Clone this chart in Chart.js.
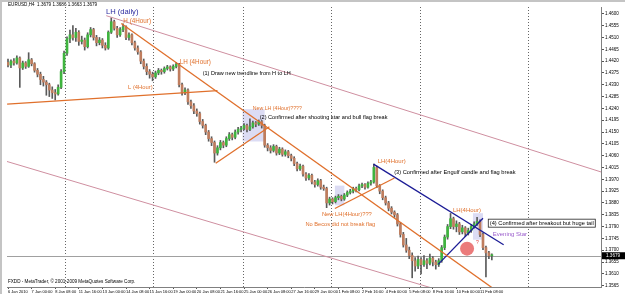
<!DOCTYPE html>
<html>
<head>
<meta charset="utf-8">
<script src="https://cdn.jsdelivr.net/npm/chart.js@4.4.0/dist/chart.umd.min.js"></script>
<style>
  html, body { margin: 0; padding: 0; background: #fff; }
</style>
</head>
<body>
<canvas id="chart" width="625" height="294"></canvas>
<script>
// EURUSD H4 candles
let opens = [
  1.4415,1.4405,1.4420,1.4413,1.4432,1.4394,1.4413,1.4400,1.4425,1.4410,
  1.4385,1.4370,1.4350,1.4340,1.4330,1.4310,1.4300,1.4295,1.4320,1.4380,
  1.4450,1.4505,1.4520,1.4510,1.4530,1.4495,1.4500,1.4475,1.4520,1.4540,
  1.4510,1.4490,1.4500,1.4480,1.4470,1.4530,1.4570,1.4545,1.4520,1.4540,
  1.4550,1.4510,1.4520,1.4490,1.4470,1.4455,1.4420,1.4400,1.4380,1.4370,
  1.4360,1.4375,1.4385,1.4380,1.4392,1.4398,1.4390,1.4400,1.4408,1.4330,
  1.4300,1.4310,1.4265,1.4250,1.4230,1.4220,1.4190,1.4175,1.4150,1.4125,
  1.4110,1.4070,1.4090,1.4110,1.4100,1.4125,1.4140,1.4130,1.4150,1.4160,
  1.4165,1.4175,1.4160,1.4170,1.4185,1.4180,1.4190,1.4175,1.4100,1.4090,
  1.4080,1.4095,1.4070,1.4085,1.4065,1.4075,1.4060,1.4050,1.4030,1.4010,
  1.4020,1.3990,1.3975,1.3985,1.3960,1.3950,1.3965,1.3940,1.3935,1.3880,
  1.3895,1.3885,1.3900,1.3905,1.3895,1.3910,1.3920,1.3925,1.3935,1.3930,
  1.3945,1.3950,1.3940,1.3955,1.3960,1.4015,1.3945,1.3925,1.3900,1.3880,
  1.3860,1.3845,1.3835,1.3800,1.3760,1.3720,1.3700,1.3680,1.3660,1.3640,
  1.3665,1.3645,1.3660,1.3650,1.3670,1.3655,1.3645,1.3660,1.3710,1.3750,
  1.3790,1.3820,1.3790,1.3800,1.3770,1.3785,1.3765,1.3775,1.3790,1.3800,
  1.3810,1.3760,1.3710,1.3690,1.3679
];
let highs = [
  1.4428,1.4425,1.4430,1.4440,1.4436,1.4420,1.4418,1.4452,1.4430,1.4414,
  1.4392,1.4378,1.4362,1.4346,1.4336,1.4322,1.4312,1.4330,1.4388,1.4458,
  1.4512,1.4538,1.4555,1.4545,1.4536,1.4515,1.4508,1.4528,1.4548,1.4545,
  1.4518,1.4510,1.4506,1.4490,1.4535,1.4585,1.4576,1.4552,1.4548,1.4562,
  1.4554,1.4528,1.4524,1.4496,1.4478,1.4460,1.4428,1.4410,1.4388,1.4378,
  1.4382,1.4392,1.4390,1.4398,1.4404,1.4402,1.4406,1.4415,1.4412,1.4336,
  1.4318,1.4314,1.4272,1.4258,1.4238,1.4226,1.4198,1.4180,1.4156,1.4132,
  1.4116,1.4098,1.4118,1.4116,1.4132,1.4148,1.4146,1.4158,1.4168,1.4172,
  1.4182,1.4180,1.4200,1.4192,1.4190,1.4196,1.4194,1.4180,1.4106,1.4098,
  1.4102,1.4100,1.4092,1.4090,1.4082,1.4080,1.4066,1.4056,1.4036,1.4028,
  1.4024,1.3996,1.3992,1.3990,1.3966,1.3972,1.3970,1.3948,1.3940,1.3902,
  1.3900,1.3906,1.3912,1.3910,1.3916,1.3926,1.3932,1.3940,1.3940,1.3952,
  1.3956,1.3954,1.3960,1.3966,1.4028,1.4020,1.3950,1.3930,1.3906,1.3886,
  1.3866,1.3850,1.3840,1.3806,1.3768,1.3745,1.3712,1.3690,1.3672,1.3678,
  1.3672,1.3680,1.3668,1.3685,1.3676,1.3662,1.3668,1.3718,1.3758,1.3798,
  1.3840,1.3826,1.3812,1.3806,1.3795,1.3790,1.3784,1.3798,1.3808,1.3825,
  1.3816,1.3766,1.3716,1.3696,1.3686
];
let lows = [
  1.4398,1.4395,1.4405,1.4408,1.4320,1.4388,1.4392,1.4396,1.4402,1.4378,
  1.4360,1.4330,1.4325,1.4290,1.4285,1.4278,1.4272,1.4290,1.4315,1.4372,
  1.4442,1.4490,1.4500,1.4495,1.4480,1.4485,1.4462,1.4470,1.4512,1.4500,
  1.4478,1.4482,1.4470,1.4462,1.4465,1.4525,1.4538,1.4510,1.4514,1.4532,
  1.4502,1.4500,1.4482,1.4462,1.4446,1.4410,1.4390,1.4368,1.4355,1.4345,
  1.4354,1.4368,1.4370,1.4374,1.4386,1.4382,1.4384,1.4394,1.4322,1.4290,
  1.4292,1.4255,1.4240,1.4220,1.4210,1.4180,1.4165,1.4140,1.4115,1.4098,
  1.4035,1.4062,1.4082,1.4090,1.4094,1.4118,1.4120,1.4124,1.4142,1.4150,
  1.4158,1.4150,1.4155,1.4165,1.4170,1.4175,1.4165,1.4092,1.4078,1.4070,
  1.4074,1.4062,1.4064,1.4058,1.4058,1.4052,1.4040,1.4022,1.4002,1.4004,
  1.3982,1.3966,1.3968,1.3952,1.3940,1.3944,1.3932,1.3928,1.3862,1.3872,
  1.3876,1.3880,1.3892,1.3888,1.3890,1.3904,1.3914,1.3918,1.3922,1.3926,
  1.3938,1.3932,1.3936,1.3948,1.3955,1.3938,1.3915,1.3892,1.3872,1.3850,
  1.3838,1.3825,1.3792,1.3750,1.3712,1.3692,1.3668,1.3595,1.3620,1.3630,
  1.3610,1.3638,1.3630,1.3644,1.3640,1.3628,1.3638,1.3654,1.3702,1.3742,
  1.3782,1.3780,1.3770,1.3760,1.3762,1.3752,1.3758,1.3768,1.3784,1.3794,
  1.3752,1.3702,1.3598,1.3668,1.3663
];
let closes = [
  1.4405,1.4420,1.4413,1.4432,1.4394,1.4413,1.4400,1.4425,1.4410,1.4385,
  1.4370,1.4350,1.4340,1.4330,1.4310,1.4300,1.4295,1.4320,1.4380,1.4450,
  1.4505,1.4520,1.4510,1.4530,1.4495,1.4500,1.4475,1.4520,1.4540,1.4510,
  1.4490,1.4500,1.4480,1.4470,1.4530,1.4570,1.4545,1.4520,1.4540,1.4550,
  1.4510,1.4520,1.4490,1.4470,1.4455,1.4420,1.4400,1.4380,1.4370,1.4360,
  1.4375,1.4385,1.4380,1.4392,1.4398,1.4390,1.4400,1.4408,1.4330,1.4300,
  1.4310,1.4265,1.4250,1.4230,1.4220,1.4190,1.4175,1.4150,1.4125,1.4110,
  1.4070,1.4090,1.4110,1.4100,1.4125,1.4140,1.4130,1.4150,1.4160,1.4165,
  1.4175,1.4160,1.4170,1.4185,1.4180,1.4190,1.4175,1.4100,1.4090,1.4080,
  1.4095,1.4070,1.4085,1.4065,1.4075,1.4060,1.4050,1.4030,1.4010,1.4020,
  1.3990,1.3975,1.3985,1.3960,1.3950,1.3965,1.3940,1.3935,1.3880,1.3895,
  1.3885,1.3900,1.3905,1.3895,1.3910,1.3920,1.3925,1.3935,1.3930,1.3945,
  1.3950,1.3940,1.3955,1.3960,1.4015,1.3945,1.3925,1.3900,1.3880,1.3860,
  1.3845,1.3835,1.3800,1.3760,1.3720,1.3700,1.3680,1.3660,1.3640,1.3665,
  1.3645,1.3660,1.3650,1.3670,1.3655,1.3645,1.3660,1.3710,1.3750,1.3790,
  1.3820,1.3790,1.3800,1.3770,1.3785,1.3765,1.3775,1.3790,1.3800,1.3810,
  1.3760,1.3710,1.3690,1.3679,1.3679
];

let xLabels = [
  "6 Jan 2010", "7 Jan 00:00", "8 Jan 08:00", "11 Jan 16:00", "13 Jan 00:00",
  "14 Jan 08:00", "15 Jan 16:00", "19 Jan 00:00", "20 Jan 08:00", "21 Jan 16:00",
  "25 Jan 00:00", "26 Jan 08:00", "27 Jan 16:00", "29 Jan 00:00", "1 Feb 08:00",
  "2 Feb 16:00", "4 Feb 00:00", "5 Feb 08:00", "8 Feb 16:00", "10 Feb 00:00",
  "11 Feb 08:00"
];
let xLabelBars = [0, 8, 16, 24, 32, 40, 48, 56, 64, 72, 80, 88, 96, 104, 112, 120, 128, 136, 144, 152, 160];
let yTicks = [
  1.4600, 1.4555, 1.4510, 1.4465, 1.4420, 1.4375, 1.4330, 1.4285, 1.4240, 1.4195,
  1.4150, 1.4105, 1.4060, 1.4015, 1.3970, 1.3925, 1.3880, 1.3835, 1.3790, 1.3745,
  1.3700, 1.3655, 1.3610, 1.3565
];
let lastPrice = 1.3679;
let weekSeparators = [19.2, 49.2, 79.5, 109.4, 139.7, 176.1];

// trendlines: [bar, price] pairs
let channelTop = [[33.3, 1.4593], [201, 1.3998]];
let channelBottom = [[-0.4, 1.4038], [150, 1.3535]];
let lowLine = [[-0.3, 1.4256], [71, 1.4308]];
let mainTrend = [[38.4, 1.4563], [167, 1.3534]];
let flagTwo = [[70.4, 1.4031], [88.6, 1.4170]];
let flagThree = [[110.8, 1.3859], [131, 1.3975]];
let blueDown = [[123.9, 1.4028], [168, 1.3721]];
let blueUp = [[145.8, 1.3646], [161, 1.3822]];
let boxes = [
  [[79.5, 87], [1.4114, 1.4237]],
  [[110.8, 114], [1.3871, 1.3946]],
  [[157.6, 161], [1.3740, 1.3841]]
];
let circleAt = [155.6, 1.3706];

let ORANGE = "#e0702c";
let notes = [
  { text: "LH (daily)", at: [33.2, 1.4607], color: "#2c2ca0", size: 7.6 },
  { text: "H (4Hour)", at: [39.1, 1.4570], color: ORANGE, size: 6.3 },
  { text: "LH (4Hour)", at: [58.2, 1.4417], color: ORANGE, size: 6.3 },
  { text: "(1) Draw new trendline from H to LH", at: [66.0, 1.4372], color: "#000", size: 5.5 },
  { text: "L (4Hour)", at: [40.7, 1.4319], color: ORANGE, size: 5.8 },
  { text: "New LH (4Hour)????", at: [83.0, 1.4241], color: ORANGE, size: 5.2 },
  { text: "(2) Confirmed after shooting star and bull flag break", at: [85.3, 1.4204], color: "#000", size: 5.6 },
  { text: "LH(4Hour)", at: [125.3, 1.4039], color: ORANGE, size: 6 },
  { text: "(3) Confirmed after Engulf candle and flag break", at: [130.9, 1.3998], color: "#000", size: 5.7 },
  { text: "New LH(4Hour)???", at: [106.4, 1.3837], color: ORANGE, size: 5.8 },
  { text: "No Becos did not break flag", at: [100.8, 1.3800], color: ORANGE, size: 5.7 },
  { text: "LH(4Hour)", at: [150.8, 1.3852], color: ORANGE, size: 6 },
  { text: "(4) Confirmed after breakout but huge tail", at: [163.3, 1.3803], color: "#000", size: 5.7, boxed: true },
  { text: "Evening Star", at: [164.3, 1.3762], color: "#9a5ccc", size: 6 },
  { text: "?", at: [158.6, 1.3729], color: "#e04040", size: 5 }
];

let FONT = "'Liberation Sans', Arial, sans-serif";

function toPoints(seg) {
  return seg.map(p => ({ x: p[0], y: p[1] }));
}

function lineSet(seg, color, width) {
  return {
    type: "line",
    data: toPoints(seg),
    borderColor: color,
    borderWidth: width,
    pointRadius: 0,
    fill: false,
    order: 0,
  };
}

let decor = {
  id: "decor",
  beforeDraw(chart) {
    let ctx = chart.ctx;
    ctx.save();
    ctx.fillStyle = "#fff";
    ctx.fillRect(0, 0, chart.width, chart.height);
    ctx.fillStyle = "#c4c4c4";
    ctx.fillRect(0, 0, chart.width, 2);
    ctx.fillRect(0, 0, 2, chart.height);
    ctx.restore();
  },
  beforeDatasetsDraw(chart) {
    let ctx = chart.ctx;
    let xs = chart.scales.x, ys = chart.scales.y, area = chart.chartArea;
    ctx.save();
    ctx.beginPath();
    ctx.rect(area.left, area.top, area.right - area.left, area.bottom - area.top);
    ctx.clip();
    // shaded candle boxes
    ctx.fillStyle = "rgba(205,205,240,0.7)";
    boxes.forEach(b => {
      let x1 = xs.getPixelForValue(b[0][0]), x2 = xs.getPixelForValue(b[0][1]);
      let y1 = ys.getPixelForValue(b[1][1]), y2 = ys.getPixelForValue(b[1][0]);
      ctx.fillRect(x1, y1, x2 - x1, y2 - y1);
    });
    // weekly separators
    ctx.strokeStyle = "#666";
    ctx.lineWidth = 1;
    ctx.setLineDash([1, 2]);
    weekSeparators.forEach(v => {
      let x = Math.round(xs.getPixelForValue(v)) + 0.5;
      ctx.beginPath();
      ctx.moveTo(x, area.top);
      ctx.lineTo(x, area.bottom);
      ctx.stroke();
    });
    ctx.setLineDash([]);
    // bid line
    let py = Math.round(ys.getPixelForValue(lastPrice)) + 0.5;
    ctx.strokeStyle = "#a0a0a0";
    ctx.beginPath();
    ctx.moveTo(area.left, py);
    ctx.lineTo(area.right, py);
    ctx.stroke();
    ctx.restore();
  },
  afterDatasetsDraw(chart) {
    let ctx = chart.ctx;
    let xs = chart.scales.x, ys = chart.scales.y, area = chart.chartArea;
    ctx.save();
    ctx.textAlign = "left";
    ctx.textBaseline = "middle";
    notes.forEach(n => {
      let x = xs.getPixelForValue(n.at[0]);
      let y = ys.getPixelForValue(n.at[1]);
      ctx.font = n.size + "px " + FONT;
      if (n.boxed) {
        let w = ctx.measureText(n.text).width;
        ctx.fillStyle = "#fff";
        ctx.fillRect(x - 1.5, y - 4, w + 3, 8);
        ctx.strokeStyle = "#222";
        ctx.lineWidth = 0.8;
        ctx.strokeRect(x - 1.5, y - 4, w + 3, 8);
      }
      ctx.fillStyle = n.color;
      ctx.fillText(n.text, x, y);
    });
    // price tag on the axis
    let py = ys.getPixelForValue(lastPrice);
    ctx.fillStyle = "#000";
    ctx.fillRect(area.right + 1, py - 3.5, 23, 7);
    ctx.fillStyle = "#fff";
    ctx.font = "4.6px " + FONT;
    ctx.fillText(lastPrice.toFixed(4), area.right + 5, py + 0.3);
    // header and footer
    ctx.fillStyle = "#000";
    ctx.font = "4.6px " + FONT;
    ctx.fillText("EURUSD,H4  1.3679 1.3686 1.3663 1.3679", area.left + 1, 5);
    ctx.fillText("FXDD - MetaTrader, \u00a9 2001-2009 MetaQuotes Software Corp.", area.left + 1, area.bottom - 5);
    ctx.restore();
  }
};

let bars = opens.map((o, i) => i);

new Chart(document.getElementById("chart"), {
  type: "bar",
  data: {
    datasets: [
      {
        label: "body",
        data: bars.map(i => ({ x: i, y: [opens[i], closes[i]] })),
        backgroundColor: (c) => closes[c.dataIndex] >= opens[c.dataIndex] ? "#3fb43f" : "#bf7d5e",
        borderWidth: 0,
        barThickness: 2,
        minBarLength: 1,
        grouped: false,
        order: 2,
      },
      {
        label: "wick",
        data: bars.map(i => ({ x: i, y: [lows[i], highs[i]] })),
        backgroundColor: "#5a5a5a",
        borderWidth: 0,
        barThickness: 1,
        grouped: false,
        order: 3,
      },
      lineSet(channelTop, "#cf8fa0", 1),
      lineSet(channelBottom, "#cf8fa0", 1),
      lineSet(lowLine, ORANGE, 1.3),
      lineSet(mainTrend, ORANGE, 1.3),
      lineSet(flagTwo, ORANGE, 1.3),
      lineSet(flagThree, ORANGE, 1.3),
      lineSet(blueDown, "#1c1c96", 1.3),
      lineSet(blueUp, "#1c1c96", 1.3),
      {
        type: "scatter",
        data: [{ x: circleAt[0], y: circleAt[1] }],
        pointRadius: 7,
        backgroundColor: "rgba(232,100,100,0.85)",
        borderWidth: 0,
        order: 1,
      },
    ],
  },
  options: {
    responsive: false,
    animation: false,
    devicePixelRatio: 1,
    layout: { padding: { left: 3, top: 3, right: 0, bottom: 0 } },
    plugins: {
      legend: { display: false },
      tooltip: { enabled: false },
    },
    scales: {
      x: {
        type: "linear",
        min: -0.34,
        max: 201,
        offset: false,
        grid: { drawOnChartArea: false, tickLength: 2, color: "#555", offset: false },
        border: { color: "#808080" },
        afterBuildTicks: (s) => { s.ticks = xLabelBars.map(v => ({ value: v })); },
        afterFit: (s) => { s.height = 6; s.paddingLeft = 0; s.paddingRight = 0; },
        ticks: {
          autoSkip: false,
          maxRotation: 0,
          align: "start",
          padding: 0,
          color: "#000",
          font: { size: 4, family: FONT },
          callback: (v, i) => xLabels[i],
        },
      },
      y: {
        type: "linear",
        position: "right",
        min: 1.3560,
        max: 1.4626,
        grid: { drawOnChartArea: false, tickLength: 3, color: "#555" },
        border: { color: "#808080" },
        afterBuildTicks: (s) => { s.ticks = yTicks.map(v => ({ value: v })); },
        afterFit: (s) => { s.width = 24; s.paddingTop = 0; s.paddingBottom = 0; },
        ticks: {
          padding: 1,
          color: "#000",
          font: { size: 4.5, family: FONT },
          callback: (v) => v.toFixed(4),
        },
      },
    },
  },
  plugins: [decor],
});
</script>
</body>
</html>
